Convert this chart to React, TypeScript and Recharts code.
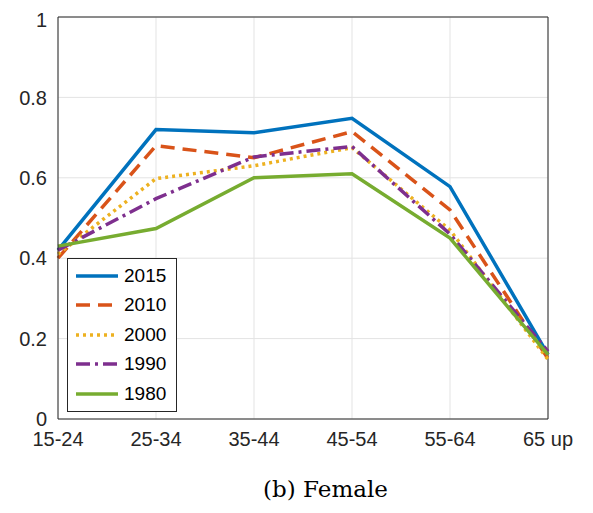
import React from "react";
import { LineChart, Line, XAxis, YAxis, CartesianGrid, ReferenceLine } from "recharts";

const categories = ["15-24", "25-34", "35-44", "45-54", "55-64", "65 up"];
const s2015 = [0.42, 0.72, 0.712, 0.748, 0.578, 0.16];
const s2010 = [0.40, 0.68, 0.65, 0.715, 0.52, 0.15];
const s2000 = [0.41, 0.598, 0.63, 0.675, 0.47, 0.148];
const s1990 = [0.42, 0.548, 0.652, 0.678, 0.46, 0.168];
const s1980 = [0.43, 0.474, 0.60, 0.61, 0.45, 0.16];
const yTicks = [0, 0.2, 0.4, 0.6, 0.8, 1];

const series = [
  { key: "2015", color: "#0072BD", dash: undefined },
  { key: "2010", color: "#D95319", dash: "14 8" },
  { key: "2000", color: "#EDB120", dash: "3 4" },
  { key: "1990", color: "#7E2F8E", dash: "14 5 3 5" },
  { key: "1980", color: "#77AC30", dash: undefined },
];

const data = categories.map((c, i) => ({
  cat: c, "2015": s2015[i], "2010": s2010[i], "2000": s2000[i], "1990": s1990[i], "1980": s1980[i],
}));

const font = "'Liberation Sans', Arial, sans-serif";

const LegendBox = () => (
  <div style={{ position: "absolute", left: 59, top: 250, background: "#fff", border: "1px solid #262626", padding: "2px 6px", width: 96, fontFamily: font, fontSize: 19, boxSizing: "content-box" }}>
    {series.map((s) => (
      <div key={s.key} style={{ display: "flex", alignItems: "center", height: 29.5 }}>
        <svg width={46} height={10}>
          <line x1={2} y1={5} x2={44} y2={5} stroke={s.color} strokeWidth={3.5} strokeDasharray={s.dash} />
        </svg>
        <span style={{ marginLeft: 4 }}>{s.key}</span>
      </div>
    ))}
  </div>
);

export default function App() {
  return (
    <div style={{ width: 585, position: "relative" }}>
      <LineChart width={585} height={446} data={data} margin={{ top: 9, right: 45, left: 0, bottom: 0 }}>
        <CartesianGrid stroke="#e3e3e3" />
        <XAxis dataKey="cat" height={35} dy={5} tick={{ fill: "#262626", fontSize: 20, fontFamily: font }} stroke="#262626" tickLine={false} />
        <YAxis domain={[0, 1]} ticks={yTicks} width={50} dx={-3} tick={{ fill: "#262626", fontSize: 20, fontFamily: font }} stroke="#262626" tickLine={false} />
        <ReferenceLine y={1} stroke="#262626" />
        <ReferenceLine x="65 up" stroke="#262626" />
        {series.map((s) => (
          <Line key={s.key} dataKey={s.key} stroke={s.color} strokeWidth={3.5} strokeDasharray={s.dash} dot={false} isAnimationActive={false} />
        ))}
      </LineChart>
      <LegendBox />
      <div style={{ textAlign: "center", fontFamily: "'DejaVu Serif', 'Liberation Serif', serif", fontSize: 23, marginTop: 22, paddingLeft: 50 }}>
        (b) Female
      </div>
    </div>
  );
}
